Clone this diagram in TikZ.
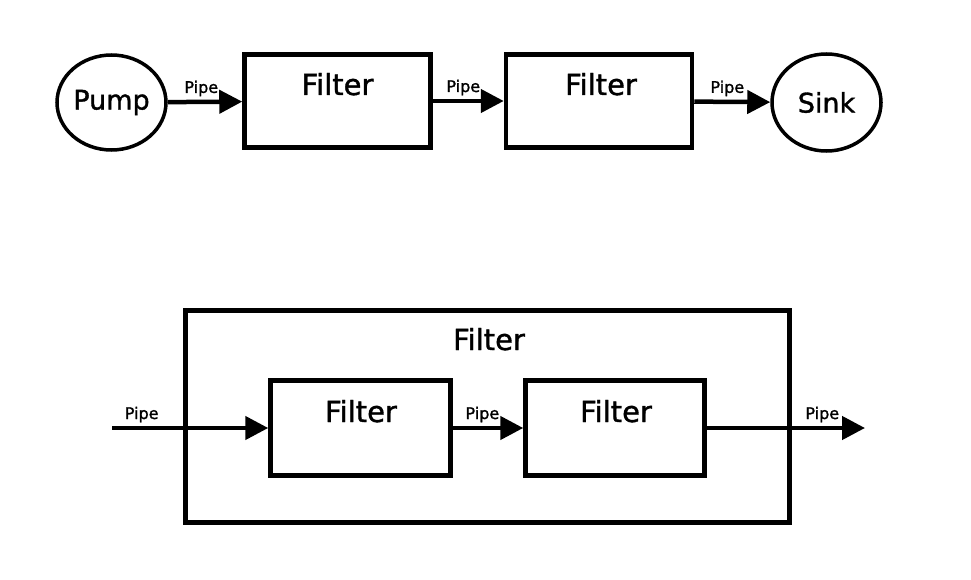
\documentclass[tikz,border=0pt]{standalone}
\usepackage{fontspec}
\setmainfont{DejaVu Sans}
\newfontfamily\heavyfont{DejaVu Sans}[FakeBold=1.3]
\usetikzlibrary{arrows.meta,shapes.geometric}
\tikzset{
  blockbox/.style={draw, line width=4.5pt, rectangle, minimum width=186pt, minimum height=93pt, inner sep=0pt},
  endpt/.style={draw, line width=3.5pt, ellipse, minimum width=109pt, minimum height=95pt, inner sep=0pt, font=\heavyfont\fontsize{27}{27}\selectfont},
  bigtxt/.style={font=\heavyfont\fontsize{29}{29}\selectfont, inner sep=0pt, anchor=base},
  pipelbl/.style={font=\heavyfont\fontsize{16}{16}\selectfont, inner sep=0pt, anchor=base, yshift=9pt},
  flow/.style={line width=4.5pt, -{Triangle[length=23pt,width=23pt]}}
}
\begin{document}
\begin{tikzpicture}[x=1pt,y=-1pt]
\useasboundingbox (0,0) rectangle (971,580);
% top row
\node[endpt] (pump) at (111.5,102.5) {Pump};
\node[blockbox] (f1) at (337.5,101) {};
\node[blockbox] (f2) at (599,101) {};
\node[endpt, minimum height=97pt] (sink) at (826.5,102.5) {Sink};
\node[bigtxt] (f1t) at (337.5,95) {Filter};
\node[bigtxt] (f2t) at (601,95) {Filter};
\draw[flow] (pump) -- node[pipelbl, pos=0.45] {Pipe} (f1);
\draw[flow] (f1) -- node[pipelbl, pos=0.43] {Pipe} (f2);
\draw[flow] (f2) -- node[pipelbl, pos=0.435] {Pipe} (sink);
% bottom
\node[blockbox, minimum width=604pt, minimum height=212pt] (outer) at (487.5,416.5) {};
\node[bigtxt] (ot) at (489,350) {Filter};
\node[blockbox, minimum width=180pt, minimum height=95pt] (b1) at (360.5,428) {};
\node[blockbox, minimum width=179pt, minimum height=95pt] (b2) at (615,428) {};
\node[bigtxt] (b1t) at (361,422) {Filter};
\node[bigtxt] (b2t) at (616,422) {Filter};
\coordinate (in) at (112,428);
\coordinate (out) at (865,428);
\draw[flow] (in) -- node[pipelbl, pos=0.19] {Pipe} (b1.west);
\draw[flow] (b1) -- node[pipelbl, pos=0.42] {Pipe} (b2);
\draw[flow] (b2.east) -- node[pipelbl, pos=0.73] {Pipe} (out);
\end{tikzpicture}
\end{document}
